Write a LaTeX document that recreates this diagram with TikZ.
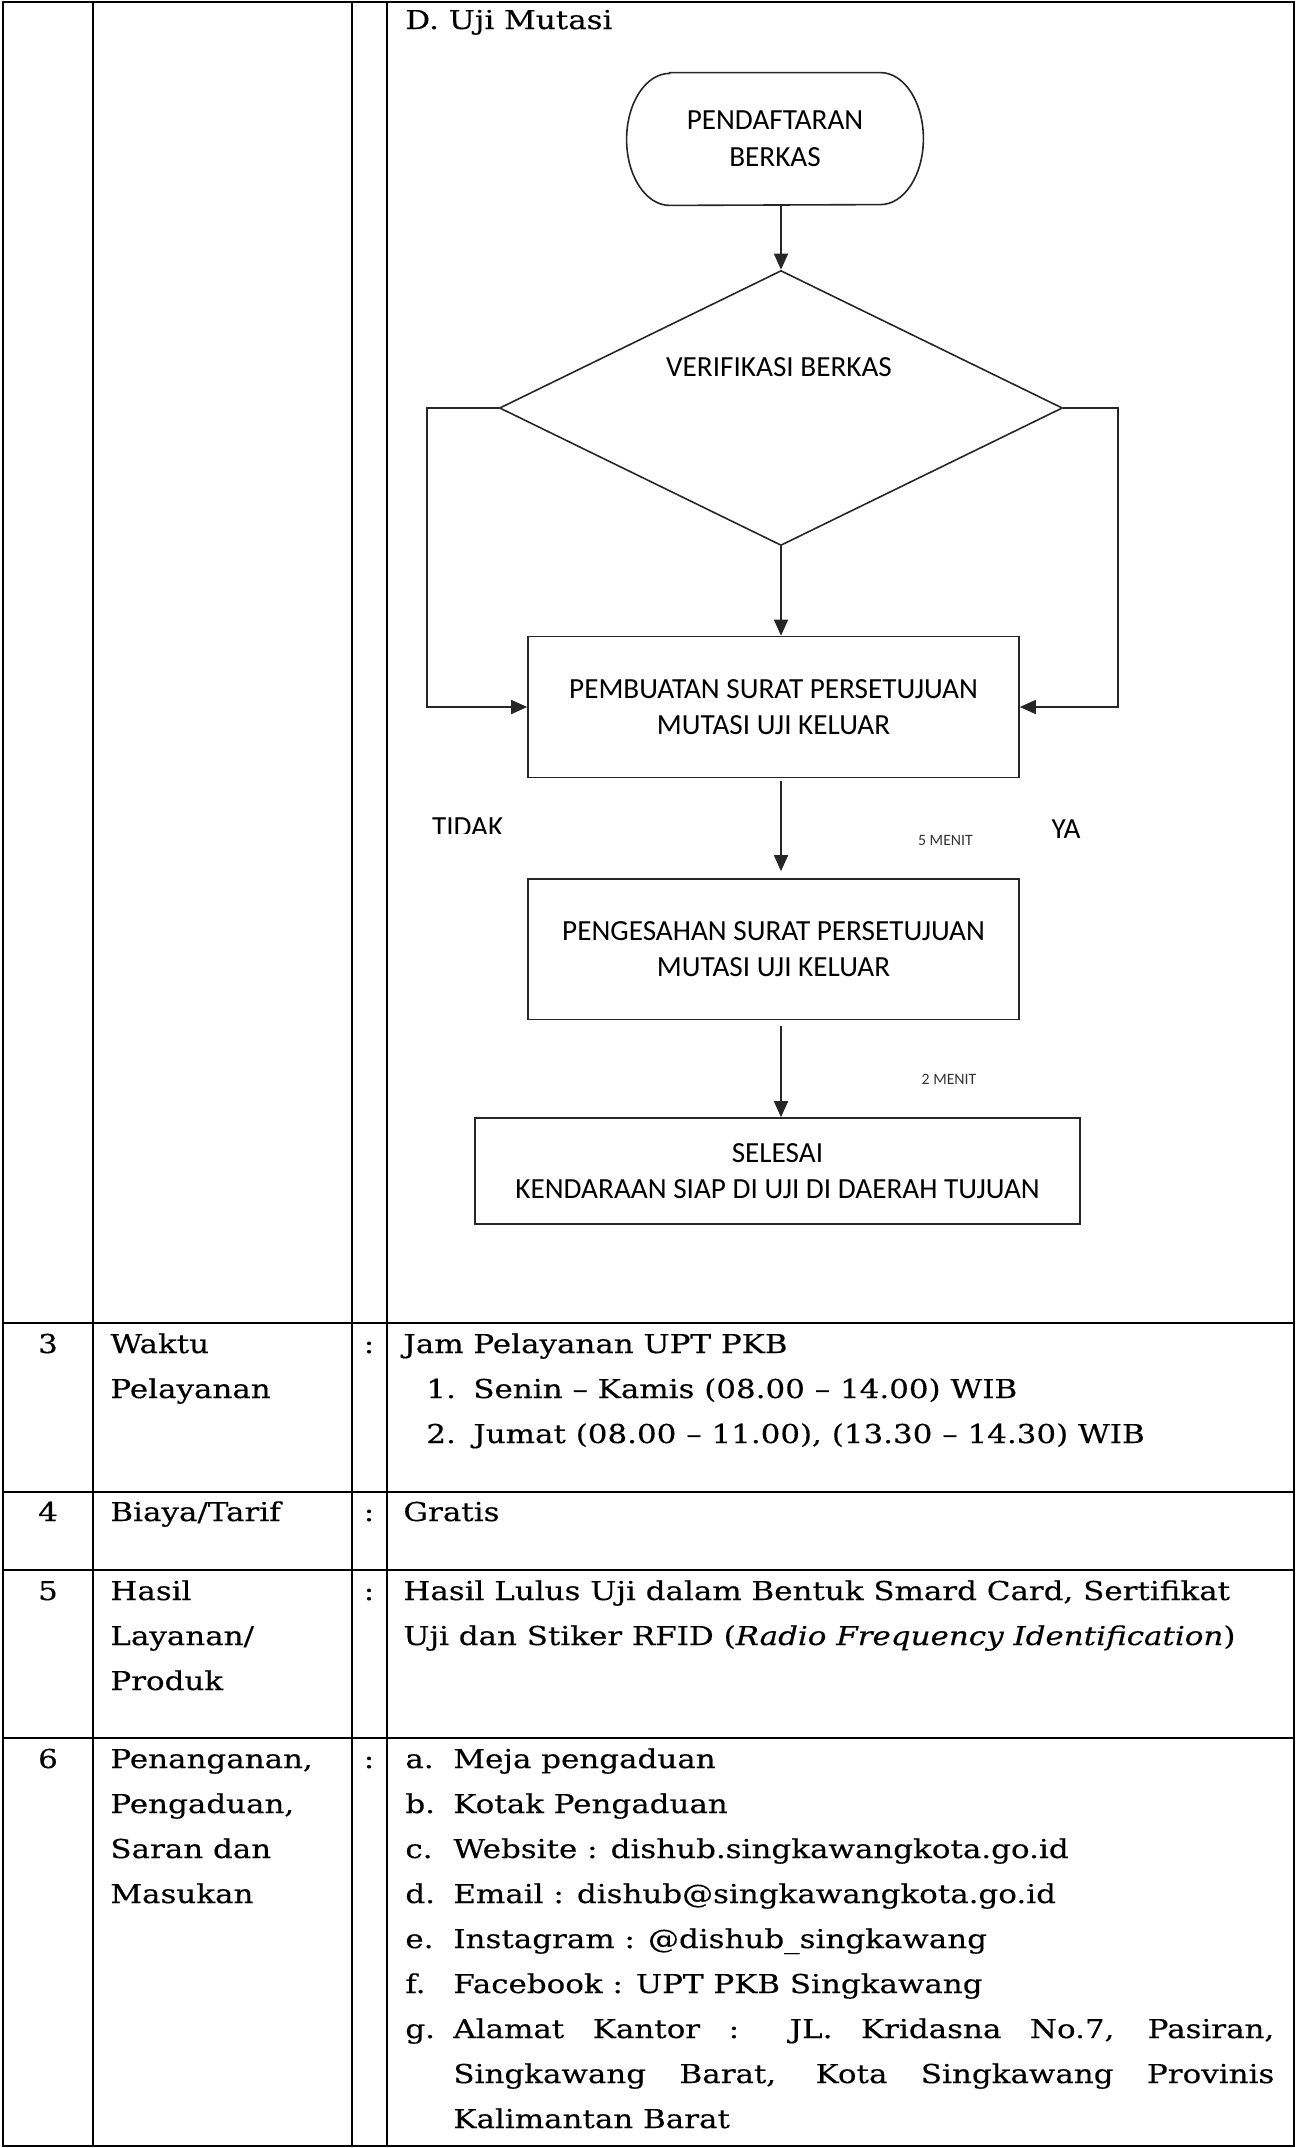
\documentclass[tikz,border=0pt]{standalone}
\usepackage{fontspec}
\setmainfont{DejaVu Serif}[FakeStretch=1.19,FakeBold=0.35]
\newfontfamily\fcfont{Carlito}
\usetikzlibrary{shapes.geometric,arrows.meta}
\begin{document}
\begin{tikzpicture}[x=0.5pt,y=-0.5pt,
  tbl/.style={line width=1.3pt},
  tx/.style={anchor=base west,inner sep=0pt,font=\fontsize{13}{15}\selectfont},
  txc/.style={anchor=base,inner sep=0pt,font=\fontsize{13}{15}\selectfont},
  fc/.style={draw=black!85,line width=0.8pt},
  fct/.style={font=\fcfont\fontsize{14.6}{18.3}\selectfont,align=center,inner sep=0pt},
  sm/.style={font=\fcfont\fontsize{7.9}{9}\selectfont,inner sep=0pt,text=black!80},
  arr/.style={draw=black!85,line width=0.8pt,-{Triangle[length=8pt,width=7pt]}}]
\useasboundingbox (0,0) rectangle (1297,2148);
% table
\draw[tbl] (3,2) rectangle (1294,2146);
\draw[tbl] (93,2) -- (93,2146) (352,2) -- (352,2146) (387,2) -- (387,2146);
\draw[tbl] (3,1323) -- (1294,1323) (3,1492) -- (1294,1492) (3,1570) -- (1294,1570) (3,1738) -- (1294,1738);
% title
\node[tx] (t0) at (405,29) {D. Uji Mutasi};
% flowchart
\node[fct,minimum width=148pt,minimum height=66pt] (term) at (775,139) {PENDAFTARAN\\BERKAS};
\draw[fc] ([xshift=21.5pt]term.north west) -- ([xshift=-21.5pt]term.north east)
  arc[start angle=-90,end angle=90,x radius=43,y radius=66]
  -- ([xshift=21.5pt]term.south west)
  arc[start angle=90,end angle=270,x radius=43,y radius=66] -- cycle;
\node[diamond,fc,minimum width=281.5pt,minimum height=137.5pt,inner sep=0pt] (dia) at (781,408) {};
\node[fct] (vtxt) at (779,367) {VERIFIKASI BERKAS};
\node[fc,fct,minimum width=245.5pt,minimum height=70.5pt] (b1) at (773.5,707) {PEMBUATAN SURAT PERSETUJUAN\\MUTASI UJI KELUAR};
\node[fc,fct,minimum width=245.5pt,minimum height=70.3pt] (b2) at (773.5,949.3) {PENGESAHAN SURAT PERSETUJUAN\\MUTASI UJI KELUAR};
\node[fc,fct,minimum width=302.5pt,minimum height=53pt] (b3) at (777.5,1171) {SELESAI\\KENDARAAN SIAP DI UJI DI DAERAH TUJUAN};
\coordinate (lbend) at (427,408);
\coordinate (rbend) at (1118,408);
\draw[arr] (dia.north |- term.south) -- (dia.north);
\draw[arr] (dia.south) -- (dia.south |- b1.north);
\draw[arr] (dia.west) -- (lbend) |- (b1.west);
\draw[arr] (dia.east) -- (rbend) |- (b1.east);
\draw[arr,shorten <=1.5pt,shorten >=3.5pt] (b1.south -| dia.south) -- (b2.north -| dia.south);
\draw[arr,shorten <=3pt] (b2.south -| dia.south) -- (b3.north -| dia.south);
\begin{scope}
\clip (420,805) rectangle (520,833);
\node[fct] (tidak) at (467.7,827) {TIDAK};
\end{scope}
\node[fct] (ya) at (1066,829) {YA};
\node[sm] (m5) at (945.5,840) {5 MENIT};
\node[sm] (m2) at (949,1079) {2 MENIT};
% row 3
\node[txc] (n3) at (48,1353) {3};
\node[tx] (w3a) at (110,1353) {Waktu};
\node[tx] (w3b) at (110,1398) {Pelayanan};
\node[txc] (c3) at (369,1353) {:};
\node[tx] (j3) at (403,1353) {Jam Pelayanan UPT PKB};
\node[tx] (j3a) at (426,1398) {\makebox[23.5pt][l]{1.}Senin – Kamis (08.00 – 14.00) WIB};
\node[tx] (j3b) at (426,1443) {\makebox[23.5pt][l]{2.}Jumat (08.00 – 11.00), (13.30 – 14.30) WIB};
% row 4
\node[txc] (n4) at (48,1521) {4};
\node[tx] (w4) at (110,1521) {Biaya/Tarif};
\node[txc] (c4) at (369,1521) {:};
\node[tx] (g4) at (403,1521) {Gratis};
% row 5
\node[txc] (n5) at (48,1600) {5};
\node[tx] (w5a) at (110,1600) {Hasil};
\node[tx] (w5b) at (110,1645) {Layanan/};
\node[tx] (w5c) at (110,1690) {Produk};
\node[txc] (c5) at (369,1600) {:};
\node[tx] (h5a) at (403,1600) {Hasil Lulus Uji dalam Bentuk Smard Card, Sertifikat};
\node[tx] (h5b) at (403,1645) {Uji dan Stiker RFID (\textit{Radio Frequency Identification})};
% row 6
\node[txc] (n6) at (48,1768) {6};
\node[tx] (w6a) at (110,1768) {Penanganan,};
\node[tx] (w6b) at (110,1813) {Pengaduan,};
\node[tx] (w6c) at (110,1858) {Saran dan};
\node[tx] (w6d) at (110,1903) {Masukan};
\node[txc] (c6) at (369,1768) {:};
\node[tx] (i6a) at (405,1768) {\makebox[24pt][l]{a.}Meja pengaduan};
\node[tx] (i6b) at (405,1813) {\makebox[24pt][l]{b.}Kotak Pengaduan};
\node[tx] (i6c) at (405,1858) {\makebox[24pt][l]{c.}Website : dishub.singkawangkota.go.id};
\node[tx] (i6d) at (405,1903) {\makebox[24pt][l]{d.}Email : dishub@singkawangkota.go.id};
\node[tx] (i6e) at (405,1948) {\makebox[24pt][l]{e.}Instagram : @dishub\_singkawang};
\node[tx] (i6f) at (405,1993) {\makebox[24pt][l]{f.}Facebook : UPT PKB Singkawang};
\node[tx] (i6g) at (405,2038) {\makebox[24pt][l]{g.}\makebox[410.5pt][s]{Alamat Kantor : JL. Kridasna No.7, Pasiran,}};
\node[tx] (i6h) at (453,2083) {\makebox[410.5pt][s]{Singkawang Barat, Kota Singkawang Provinis}};
\node[tx] (i6i) at (453,2128) {Kalimantan Barat};
\end{tikzpicture}
\end{document}
